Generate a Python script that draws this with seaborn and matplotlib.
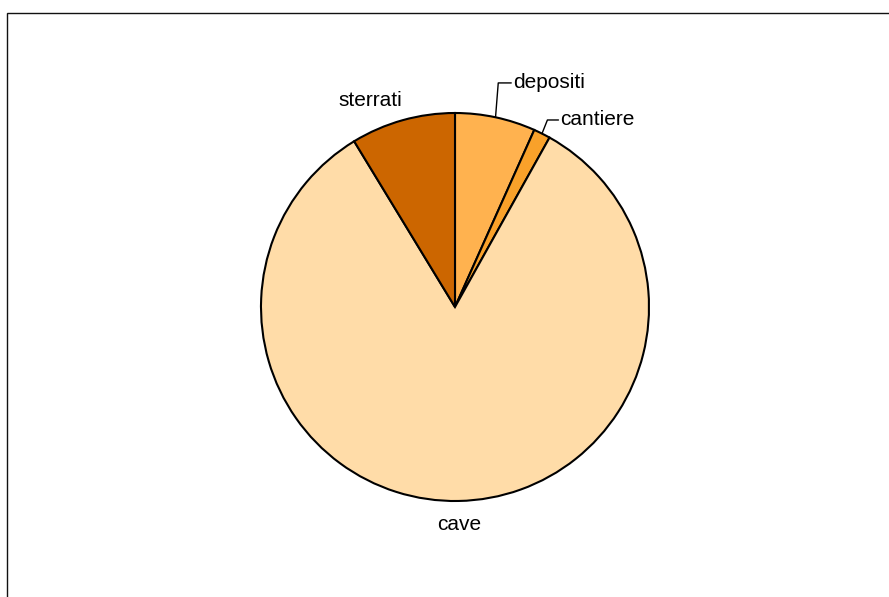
import numpy as np
import matplotlib
matplotlib.use("Agg")
import matplotlib.pyplot as plt
import seaborn as sns
from matplotlib.patches import Rectangle

sns.set_theme(style="white")
plt.rcParams['font.family'] = ['Liberation Sans', 'DejaVu Sans']

categories = ["depositi", "cantiere", "cave", "sterrati"]
values = [6.7, 1.4, 83.2, 8.7]
colors = ["#FFB24F", "#F9A12A", "#FFDCA8", "#CC6600"]

W, H = 889, 597
fig = plt.figure(figsize=(W / 100, H / 100), dpi=100)
fig.patch.set_facecolor("white")

# frame
fig.add_artist(Rectangle((7 / W, -0.05), 1.0, (H - 13) / H + 0.05,
                         transform=fig.transFigure, fill=False,
                         edgecolor="#111111", linewidth=1.0))

cx, cy, r = 455, 307, 194
ax = fig.add_axes([(cx - r) / W, (H - cy - r) / H, 2 * r / W, 2 * r / H])
wedges, _ = ax.pie(values, colors=colors, startangle=90, counterclock=False,
                   radius=1.0,
                   wedgeprops=dict(edgecolor="black", linewidth=1.5))
ax.set_xlim(-1, 1)
ax.set_ylim(-1, 1)
ax.set_aspect("equal")
ax.axis("off")

fs = 15
# label layout
for w, name in zip(wedges, categories):
    mid = np.deg2rad((w.theta1 + w.theta2) / 2)
    px, py = np.cos(mid), np.sin(mid)
    if name == "depositi":
        kx, ky = px + 0.014, 1.155
        ex = kx + 0.067
        ax.plot([px, kx, ex], [py, ky, ky], color="black", lw=1.0, clip_on=False)
        ax.text(ex + 0.01, ky, name, ha="left", va="center", fontsize=fs, color="black")
    elif name == "cantiere":
        kx, ky = px + 0.028, 0.964
        ex = kx + 0.057
        ax.plot([px, kx, ex], [py, ky, ky], color="black", lw=1.0, clip_on=False)
        ax.text(ex + 0.01, ky, name, ha="left", va="center", fontsize=fs, color="black")
    elif name == "sterrati":
        ax.text(-0.27, 1.067, name, ha="right", va="center", fontsize=fs, color="black")
    elif name == "cave":
        ax.text(0.02, py * 1.12, name, ha="center", va="center",
                fontsize=fs, color="black")

fig.savefig("out.png", dpi=100, facecolor="white")
